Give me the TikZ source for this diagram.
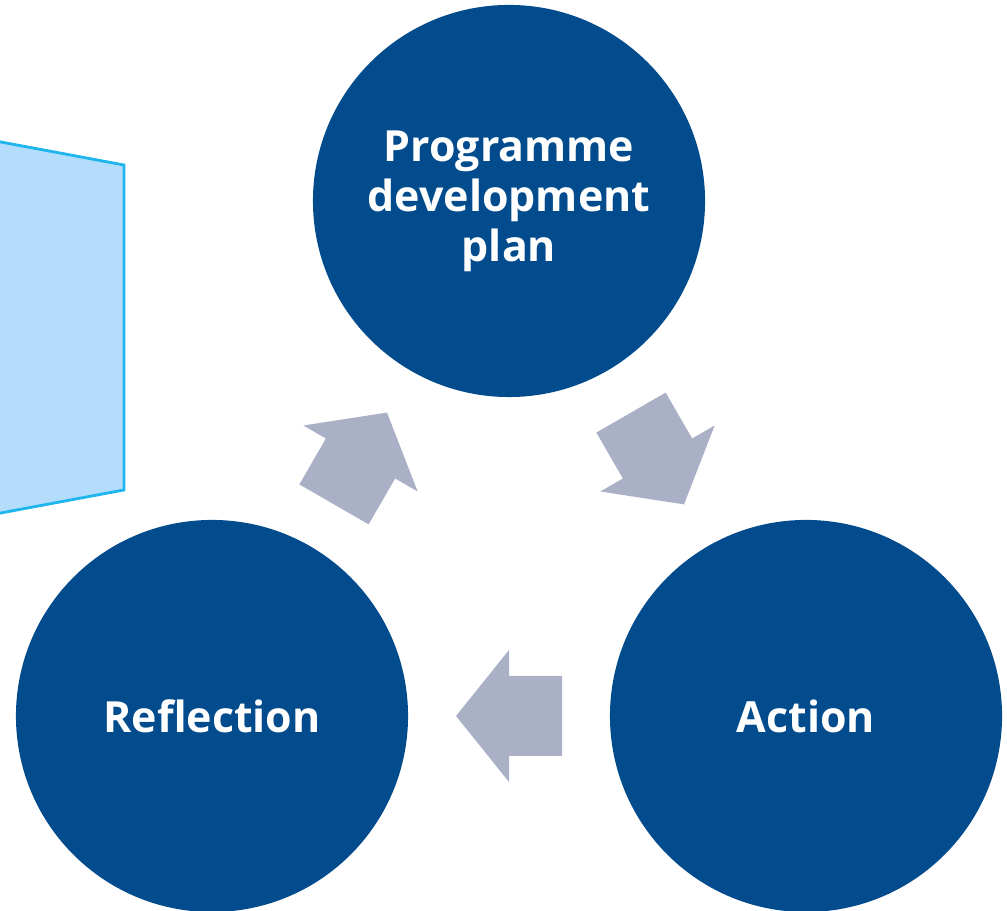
\documentclass[tikz,border=0pt]{standalone}
\usepackage{fontspec}
\setmainfont{Open Sans}
\usetikzlibrary{calc}
\definecolor{cycleblue}{RGB}{2,76,141}
\definecolor{arrowgrey}{RGB}{170,177,198}
\definecolor{panelfill}{RGB}{180,220,253}
\definecolor{paneledge}{RGB}{30,182,236}

\begin{document}
\begin{tikzpicture}[x=0.025cm,y=0.025cm,
    roundnode/.style={circle, fill=cycleblue, text=white, minimum size=9.8cm, inner sep=0pt, align=center, font=\fontsize{30.5}{35.5}\selectfont\bfseries},
    blockarrow/.style={fill=arrowgrey}
    ]

    \useasboundingbox (0,0) rectangle (1007,911);

    % side panel
    \draw [fill=panelfill, draw=paneledge, line width=2pt] (-10,771) -- (124,746) -- (124,421) -- (-10,396);

    \node [roundnode] (plan) at (509, 710) {Programme\\development\\plan};
    \node [roundnode] (reflection) at (212, 195) {Reflection};
    \node [roundnode] (action) at (806, 195) {Action};

    \coordinate (m1) at ($(plan)!0.5!(action)$);
    \coordinate (m2) at ($(action)!0.5!(reflection)$);
    \coordinate (m3) at ($(reflection)!0.5!(plan)$);

    \fill [blockarrow, shift={(m1)}, rotate=-60] (53,0) -- (0,66) -- (0,40) -- (-53,40) -- (-53,-40) -- (0,-40) -- (0,-66) -- cycle;
    \fill [blockarrow, shift={(m2)}, rotate=180] (53,0) -- (0,66) -- (0,40) -- (-53,40) -- (-53,-40) -- (0,-40) -- (0,-66) -- cycle;
    \fill [blockarrow, shift={(m3)}, rotate=60] (53,0) -- (0,66) -- (0,40) -- (-53,40) -- (-53,-40) -- (0,-40) -- (0,-66) -- cycle;

\end{tikzpicture}
\end{document}
